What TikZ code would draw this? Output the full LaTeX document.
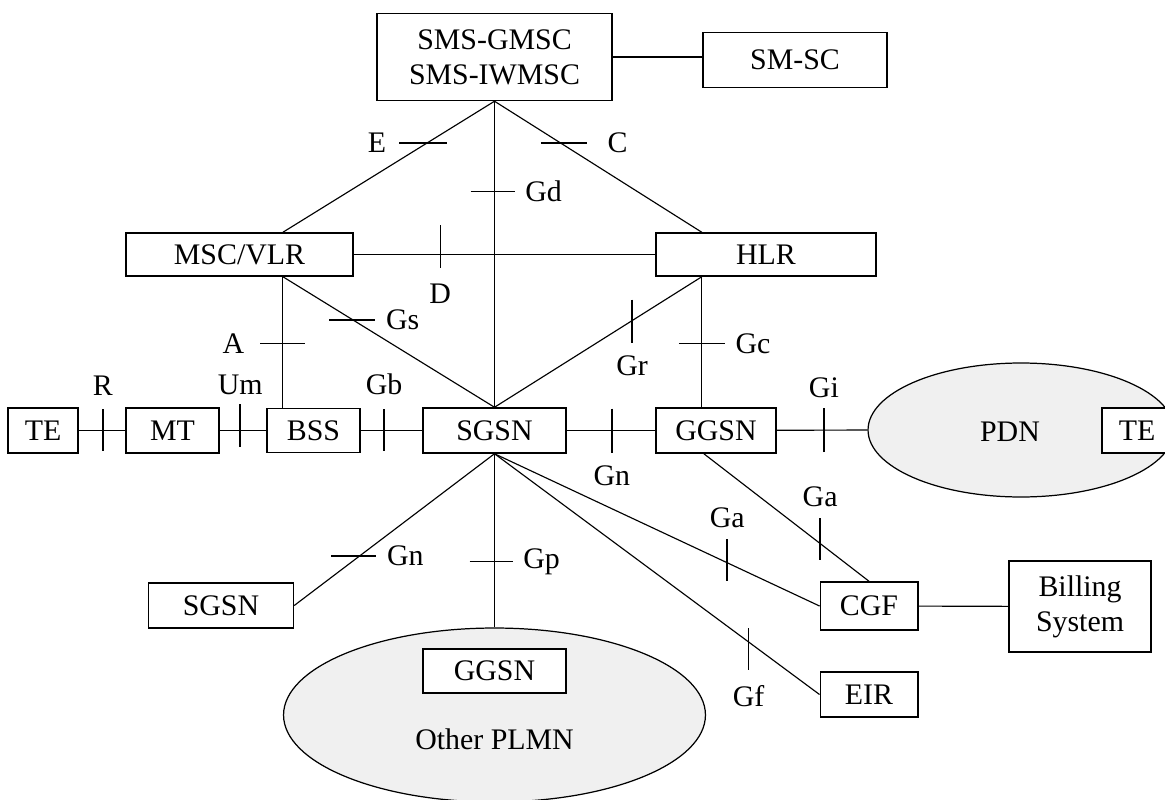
\documentclass[tikz,border=0pt]{standalone}
\usepackage{fontspec}
\setmainfont{Liberation Serif}
\usetikzlibrary{shapes.geometric, calc}

\definecolor{cloudgray}{RGB}{240,240,240}

\begin{document}
\begin{tikzpicture}[
    x=0.02cm, y=-0.02cm,
    unit/.style={rectangle, draw, fill=white, line width=0.85pt,
                 inner sep=0pt, align=center,
                 font=\fontsize{17}{20}\selectfont},
    net/.style={ellipse, draw, fill=cloudgray, line width=0.7pt,
                inner sep=0pt},
    link/.style={line width=0.65pt},
    tick/.style={line width=0.85pt},
    ifc/.style={inner sep=0pt, font=\fontsize{17}{20}\selectfont},
]

\useasboundingbox (0,0) rectangle (1165,800);
\clip (0,0) rectangle (1165,800);

% ============================================================
%  Nodes
% ============================================================
\node (smsc) [unit, minimum width=4.7cm, minimum height=1.74cm] at (494.5,57)
    {SMS-GMSC\\SMS-IWMSC};
\node (smc)  [unit, minimum width=3.68cm, minimum height=1.1cm] at (795,60)
    {SM-SC};

\node (msc)  [unit, minimum width=4.54cm, minimum height=0.86cm] at (239.5,254.5)
    {MSC/VLR};
\node (hlr)  [unit, minimum width=4.4cm, minimum height=0.86cm] at (766,254.5)
    {HLR};

% --- access row ---
\node (te1)  [unit, minimum width=1.4cm, minimum height=0.9cm] at (43,430.5) {TE};
\node (mt)   [unit, minimum width=1.86cm, minimum height=0.9cm] at (172.5,430.5) {MT};
\node (bss)  [unit, minimum width=1.86cm, minimum height=0.88cm] at (313.5,430.5) {BSS};
\node (sgsn) [unit, minimum width=2.86cm, minimum height=0.9cm] at (494.5,430.5) {SGSN};
\node (ggsn) [unit, minimum width=2.4cm, minimum height=0.9cm] at (716,430.5) {GGSN};

\node (pdn)  [net, minimum width=6.12cm, minimum height=2.68cm] at (1021,430) {};
\node (pdntxt) [ifc] at (1010,432) {PDN};
\node (te2)  [unit, minimum width=1.4cm, minimum height=0.9cm] at (1137,430.5) {TE};

% --- lower part ---
\node (sgsn2) [unit, minimum width=2.9cm, minimum height=0.9cm] at (221,605.5) {SGSN};

\node (plmn)  [net, minimum width=8.44cm, minimum height=3.48cm] at (494.5,715) {};
\node (ggsn2) [unit, minimum width=2.86cm, minimum height=0.88cm] at (494.5,671) {GGSN};
\node (plmntxt) [ifc] at (494.5,739) {Other PLMN};

\node (cgf)  [unit, minimum width=1.95cm, minimum height=0.96cm] at (869,606) {CGF};
\node (eir)  [unit, minimum width=1.95cm, minimum height=0.9cm] at (869,694.5) {EIR};
\node (bill) [unit, minimum width=2.84cm, minimum height=1.82cm] at (1080,606.5)
    {Billing\\System};

% --- ports off centre ---
\coordinate (mscT)  at ($(msc.north west)!0.69!(msc.north east)$);
\coordinate (mscB)  at (mscT |- msc.south);
\coordinate (hlrT)  at ($(hlr.north west)!0.21!(hlr.north east)$);
\coordinate (hlrB)  at (hlrT |- hlr.south);
\coordinate (ggsnB) at ($(ggsn.south west)!0.4!(ggsn.south east)$);

% ============================================================
%  Links
% ============================================================
\draw [link] (smsc.east) -- (smsc.east -| smc.west);
\draw [link] (smsc.south) -- coordinate[pos=0.32] (tE) (mscT);
\draw [link] (smsc.south) -- coordinate[pos=0.32] (tC) (hlrT);
\draw [link] (smsc.south) -- coordinate[pos=0.295] (tGd) (sgsn.north);
\draw [link] (msc.east) -- coordinate[pos=0.287] (tD) (hlr.west);
\draw [link] (mscB) -- coordinate[pos=0.333] (tGs) (sgsn.north);
\draw [link] (mscB) -- coordinate[pos=0.51] (tA) (mscB |- bss.north);
\draw [link] (sgsn.north) -- coordinate[pos=0.664] (tGr) (hlrB);
\draw [link] (hlrB) -- coordinate[pos=0.51] (tGc) (hlrB |- ggsn.north);

% --- row ---
\draw [link] (te1) -- coordinate[pos=0.52] (tR) (mt);
\draw [link] (mt) -- coordinate[pos=0.44] (tUm) (bss);
\draw [link] (bss) -- coordinate[pos=0.38] (tGb) (sgsn);
\draw [link] (sgsn) -- coordinate[pos=0.51] (tGn) (ggsn);
\draw [link] (ggsn) -- coordinate[pos=0.52] (tGi) (pdn.west);

% --- below SGSN ---
\draw [link] (sgsn.south) -- coordinate[pos=0.675] (tGn2) (sgsn2.east);
\draw [link] (sgsn.south) -- coordinate[pos=0.62] (tGp) (plmn.north);
\draw [link] (sgsn.south) -- coordinate[pos=0.716] (tGa) (cgf.west);
\draw [link] (ggsnB) -- coordinate[pos=0.704] (tGa2) (cgf.north);
\draw [link] (sgsn.south) -- coordinate[pos=0.782] (tGf) (eir.west);
\draw [link] (cgf) -- (bill);

% ============================================================
%  Interface ticks + labels
% ============================================================
\draw [tick] ($(tE)+(20,0)$) -- ++(-48,0) node (lE) [ifc, left=0.24cm] {E};
\draw [tick] ($(tC)+(-20,0)$) -- ++(46,0) node (lC) [ifc, right=0.4cm] {C};
\draw [tick] ($(tGd)+(-24,0)$) -- ++(44,0) node (lGd) [ifc, right=0.2cm] {Gd};
\draw [tick] ($(tD)+(0,-29)$) -- ++(0,43) node (lD) [ifc, below=0.3cm] {D};
\draw [tick] ($(tGs)+(-24,0)$) -- ++(46,0) node (lGs) [ifc, right=0.2cm] {Gs};
\draw [tick] ($(tA)+(22,0)$) -- ++(-45,0) node (lA) [ifc, left=0.3cm] {A};
\draw [tick] ($(tGr)+(0,-21)$) -- ++(0,43) node (lGr) [ifc, below=0.25cm] {Gr};
\draw [tick] ($(tGc)+(-23,0)$) -- ++(46,0) node (lGc) [ifc, right=0.2cm] {Gc};

\draw [tick] ($(tR)+(0,20)$) -- ++(0,-42) node (lR) [ifc, above=0.25cm] {R};
\draw [tick] ($(tUm)+(0,16)$) -- ++(0,-43) node (lUm) [ifc, above=0.15cm] {Um};
\draw [tick] ($(tGb)+(0,20)$) -- ++(0,-42) node (lGb) [ifc, above=0.25cm] {Gb};
\draw [tick] ($(tGn)+(0,-22)$) -- ++(0,44) node (lGn) [ifc, below=0.25cm] {Gn};
\draw [tick] ($(tGi)+(0,22)$) -- ++(0,-44) node (lGi) [ifc, above=0.2cm] {Gi};

\draw [tick] ($(tGn2)+(-28,0)$) -- ++(45,0) node (lGn2) [ifc, right=0.2cm] {Gn};
\draw [tick] ($(tGp)+(-25,0)$) -- ++(43,0) node (lGp) [ifc, right=0.2cm] {Gp};
\draw [tick] ($(tGa)+(0,18)$) -- ++(0,-42) node (lGa) [ifc, above=0.2cm] {Ga};
\draw [tick] ($(tGa2)+(0,16)$) -- ++(0,-42) node (lGa2) [ifc, above=0.2cm] {Ga};
\draw [tick] ($(tGf)+(0,-14)$) -- ++(0,42) node (lGf) [ifc, below=0.3cm] {Gf};

\end{tikzpicture}
\end{document}
